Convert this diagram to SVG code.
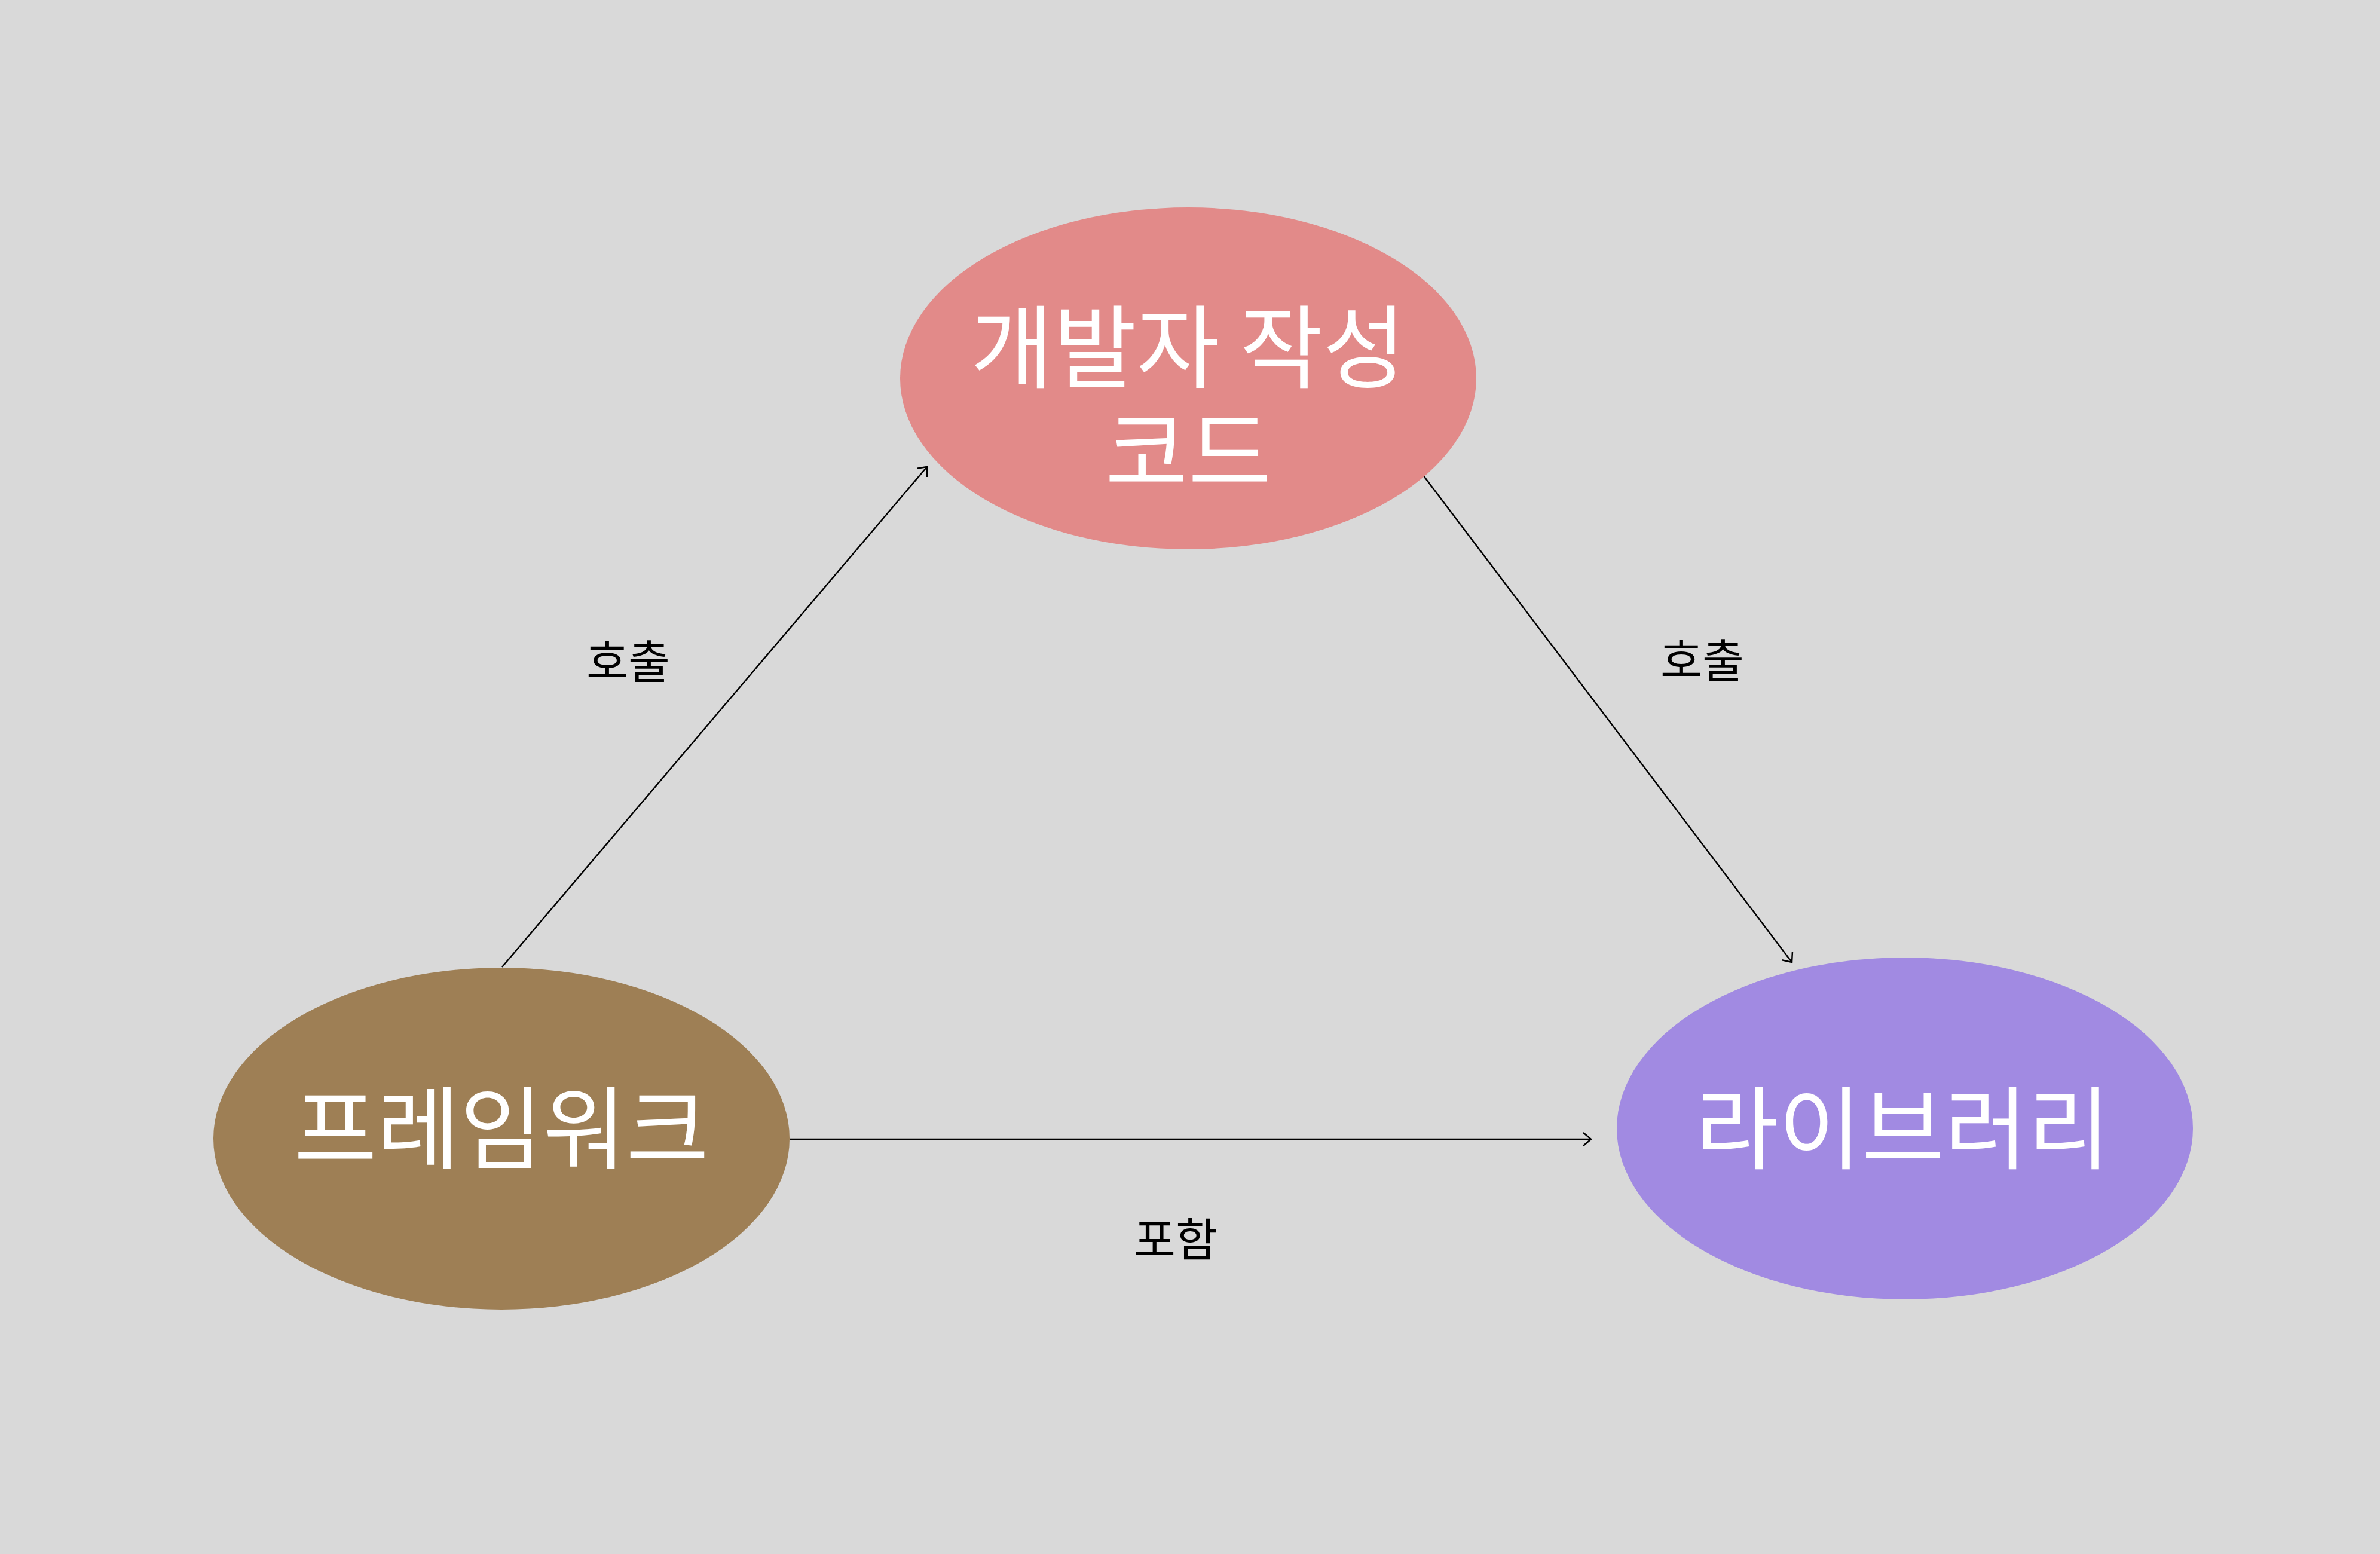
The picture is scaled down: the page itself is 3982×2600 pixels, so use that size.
<svg xmlns="http://www.w3.org/2000/svg" width="3982" height="2600" viewBox="0 0 3982 2600">
<style>
.node-text{font-family:"Noto Sans CJK KR","Noto Sans",sans-serif;font-size:151px;fill:#ffffff;text-anchor:middle}
.edge-label{font-family:"Noto Sans CJK KR","Noto Sans",sans-serif;font-size:76px;fill:#000000;text-anchor:middle}
.edge{stroke:#000000;stroke-width:2.5;fill:none;marker-end:url(#arrow)}
</style>
<defs>
<marker id="arrow" markerUnits="userSpaceOnUse" markerWidth="18" markerHeight="24" refX="15" refY="12" orient="auto">
<path d="M2,1 L15,12 L2,23" fill="none" stroke="#000000" stroke-width="2.5"/>
</marker>
</defs>
<rect x="0" y="0" width="3982" height="2600" fill="#d9d9d9"/>
<g id="connectors">
<line class="edge" x1="840" y1="1618" x2="1551" y2="781"/>
<line class="edge" x1="2378" y1="791" x2="2998" y2="1610"/>
<line class="edge" x1="1321" y1="1906" x2="2662" y2="1906"/>
<text class="edge-label" x="1051" y="1135">호출</text>
<text class="edge-label" x="2848" y="1133">호출</text>
<text class="edge-label" x="1967" y="2102">포함</text>
</g>
<g id="node-code">
<ellipse cx="1988" cy="633" rx="482" ry="286" fill="#e28a89"/>
<text class="node-text" x="1988" y="637">개발자 작성</text>
<text class="node-text" x="1988" y="812">코드</text>
</g>
<g id="node-framework">
<ellipse cx="839" cy="1905" rx="482" ry="286" fill="#9e7f55"/>
<text class="node-text" x="839" y="1944">프레임워크</text>
</g>
<g id="node-library">
<ellipse cx="3187" cy="1888" rx="482" ry="286" fill="#a18ae2"/>
<text class="node-text" x="3184" y="1944">라이브러리</text>
</g>
</svg>
